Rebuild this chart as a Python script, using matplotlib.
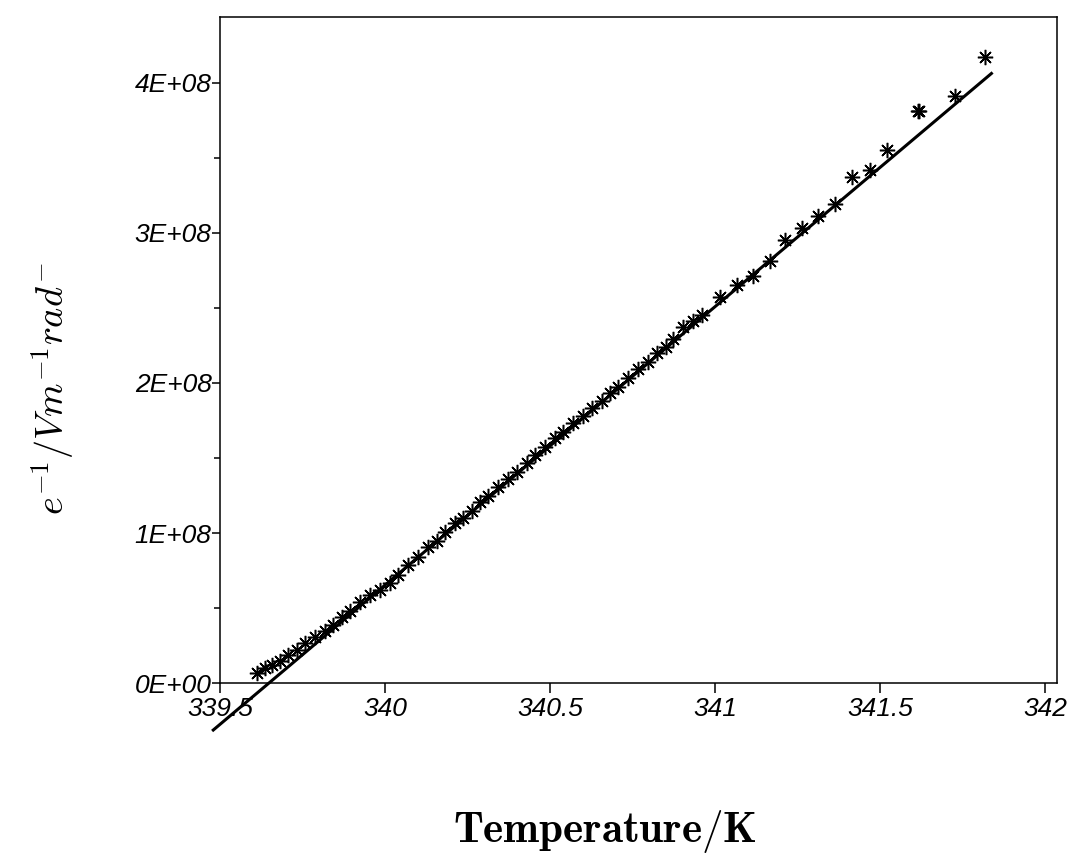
import matplotlib
matplotlib.use("Agg")
import matplotlib.pyplot as plt
from matplotlib.ticker import FixedLocator, FixedFormatter

plt.rcParams["mathtext.fontset"] = "cm"

# measured points: temperature (K) and inverse field (units of 1E+08)
temp_K = [339.612, 339.636, 339.658, 339.682, 339.706, 339.733, 339.758, 339.788,
          339.818, 339.842, 339.870, 339.894, 339.924, 339.955, 339.985, 340.015,
          340.039, 340.070, 340.100, 340.130, 340.158, 340.182, 340.212, 340.236,
          340.264, 340.288, 340.312, 340.342, 340.373, 340.400, 340.430, 340.455,
          340.485, 340.515, 340.539, 340.570, 340.600, 340.627, 340.658, 340.682,
          340.706, 340.736, 340.767, 340.797, 340.824, 340.850, 340.873, 340.903,
          340.932, 340.961, 341.015, 341.067, 341.115, 341.167, 341.212, 341.264,
          341.312, 341.364, 341.415, 341.470, 341.521, 341.615, 341.618, 341.727,
          341.818]
inv_e = [0.07, 0.10, 0.12, 0.15, 0.19, 0.22, 0.27, 0.31,
         0.35, 0.39, 0.44, 0.48, 0.54, 0.59, 0.62, 0.67,
         0.72, 0.79, 0.84, 0.91, 0.95, 1.01, 1.07, 1.10,
         1.15, 1.21, 1.25, 1.31, 1.36, 1.41, 1.47, 1.52,
         1.57, 1.63, 1.67, 1.73, 1.78, 1.83, 1.88, 1.93,
         1.97, 2.03, 2.09, 2.14, 2.20, 2.24, 2.29, 2.37,
         2.41, 2.45, 2.57, 2.65, 2.71, 2.81, 2.95, 3.03,
         3.11, 3.19, 3.37, 3.42, 3.55, 3.81, 3.81, 3.91,
         4.17]

# straight-line fit, end points
fit_T = [339.476, 341.840]
fit_e = [-0.32, 4.07]

scale = 1e8
x_ticks = [339.5, 340, 340.5, 341, 341.5, 342]
x_labels = ["339.5", "340", "340.5", "341", "341.5", "342"]
y_ticks = [0, 1, 2, 3, 4]
y_labels = ["0E+00", "1E+08", "2E+08", "3E+08", "4E+08"]
y_minor = [0.5, 1.5, 2.5, 3.5]

fig = plt.figure(figsize=(10.78, 8.66), dpi=100)
ax = fig.add_axes([0.2041, 0.2113, 0.7764, 0.7691])

ax.plot(temp_K, [v * scale for v in inv_e], linestyle="none", marker=(8, 2, 0),
        markersize=11, markeredgewidth=1.1, color="black", clip_on=False, zorder=3)
ax.plot(fit_T, [v * scale for v in fit_e], color="black", linewidth=2.2,
        clip_on=False, zorder=4, solid_capstyle="butt")

ax.set_xlim(339.5, 342.035)
ax.set_ylim(0, 4.44 * scale)

ax.xaxis.set_major_locator(FixedLocator(x_ticks))
ax.xaxis.set_major_formatter(FixedFormatter(x_labels))
ax.yaxis.set_major_locator(FixedLocator([v * scale for v in y_ticks]))
ax.yaxis.set_major_formatter(FixedFormatter(y_labels))
ax.yaxis.set_minor_locator(FixedLocator([v * scale for v in y_minor]))

ax.tick_params(axis="x", which="major", direction="out", length=7, width=1.1,
               labelsize=19, pad=3)
ax.tick_params(axis="y", which="major", direction="out", length=6, width=1.1,
               labelsize=19, pad=0)
ax.tick_params(axis="y", which="minor", direction="out", length=4, width=1.1)
for lab in ax.get_xticklabels() + ax.get_yticklabels():
    lab.set_fontstyle("italic")
    lab.set_fontfamily("Liberation Sans")

for sp in ax.spines.values():
    sp.set_linewidth(1.1)

fig.text(0.049, 0.551, r"$e^{-1}/Vm^{-1}rad^{-}$", rotation=90, fontsize=27.5,
         ha="center", va="center")
fig.text(0.561, 0.040, r"$\mathbf{Temperature/K}$", fontsize=31,
         ha="center", va="center")

fig.savefig("out.png", dpi=100, facecolor="white")
